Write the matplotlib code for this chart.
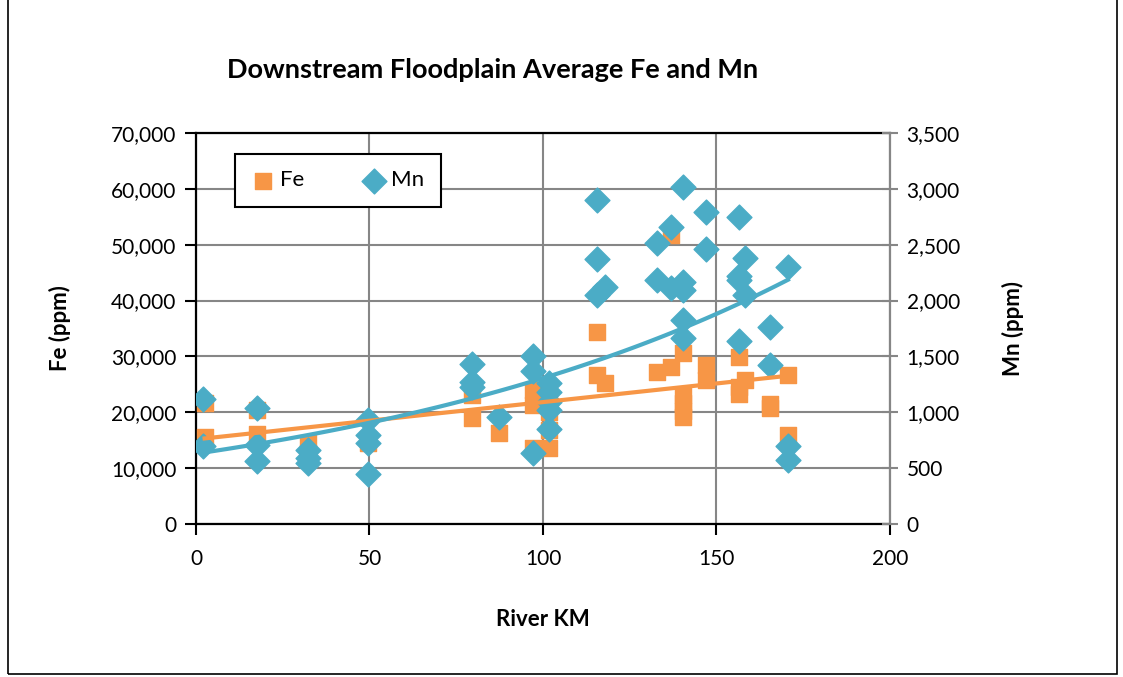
import matplotlib
matplotlib.use("Agg")
from matplotlib import pyplot as plt
from matplotlib.patches import Rectangle
from matplotlib.ticker import FuncFormatter
import numpy as np

plt.rcParams['font.family'] = ['Lato', 'DejaVu Sans']

# Fe samples (river km, ppm)
fe_km = [2.5, 2.5, 17.6, 17.6, 32.3, 32.3, 49.6, 49.6, 79.5, 79.5, 87.3,
         97.1, 97.1, 97.1, 101.7, 101.7, 101.7, 101.7, 115.6, 115.6, 117.9,
         132.9, 136.9, 136.9, 140.3, 140.3, 140.3, 140.3, 140.3, 147, 147,
         156.5, 156.5, 156.5, 158.2, 165.4, 165.4, 170.6, 170.6]
fe = [21700, 15600, 20400, 16100, 14500, 12800, 14500, 15200, 23100, 19000, 16300,
      24000, 21300, 13600, 16800, 13600, 20000, 22000, 34400, 26700, 25200,
      27200, 28100, 51700, 30600, 23100, 21700, 20200, 19200, 28500, 25800,
      29900, 24500, 23300, 25800, 21500, 20700, 26700, 15900]

# Mn samples (river km, ppm)
mn_km = [2, 2, 17.6, 17.6, 17.6, 32.3, 32.3, 32.3, 49.6, 49.6, 49.6, 49.6,
         79.5, 79.5, 79.5, 87.3, 97.1, 97.1, 97.1,
         101.7, 101.7, 101.7, 101.7, 101.7, 115.6, 115.6, 115.6, 117.9,
         132.9, 132.9, 136.9, 136.9, 140.3, 140.3, 140.3, 140.3, 140.3,
         147, 147, 156.5, 156.5, 156.5, 156.5, 158.2, 158.2,
         165.4, 165.4, 170.6, 170.6, 170.6]
mn = [1120, 700, 1035, 705, 560, 660, 590, 550, 935, 800, 725, 450,
      1430, 1270, 1225, 955, 1500, 1370, 635,
      1260, 1180, 1090, 1020, 850, 2900, 2370, 2050, 2120,
      2515, 2185, 2660, 2110, 3015, 2165, 2095, 1825, 1665,
      2790, 2465, 2750, 2220, 2185, 1640, 2380, 2050,
      1760, 1420, 2300, 700, 575]

orange = "#F79646"
blue = "#4BACC6"
grid_gray = "#868686"

fig = plt.figure(figsize=(11.23, 6.77), dpi=100)
fig.patches.append(Rectangle((0.007, 0.004), 0.988, 1.0, transform=fig.transFigure,
                             fill=False, edgecolor="black", linewidth=1.2))
ax1 = fig.add_axes([0.1745, 0.226, 0.618, 0.5775])
ax2 = ax1.twinx()

ax1.scatter(fe_km, fe, marker="s", s=120, color=orange, label="Fe", zorder=3)
ax2.scatter(mn_km, mn, marker="D", s=160, color=blue, label="Mn", zorder=3)

# trendlines: linear for Fe, exponential for Mn
fe_fit = np.polyfit(fe_km, fe, 1)
xf = np.linspace(min(fe_km), max(fe_km), 100)
ax2.plot(xf, np.polyval(fe_fit, xf), color=orange, linewidth=3,
         transform=ax1.transData, zorder=4)
mn_fit = np.polyfit(mn_km, np.log(mn), 1)
xm = np.linspace(min(mn_km), max(mn_km), 100)
ax2.plot(xm, np.exp(np.polyval(mn_fit, xm)), color=blue, linewidth=3, zorder=5)

ax1.set_xlim(0, 200)
ax1.set_ylim(0, 70000)
ax2.set_ylim(0, 3500)
ax1.set_xticks(range(0, 201, 50))
ax1.set_yticks(range(0, 70001, 10000))
ax2.set_yticks(range(0, 3501, 500))
fmt = FuncFormatter(lambda v, p: f"{int(v):,}")
ax1.yaxis.set_major_formatter(fmt)
ax2.yaxis.set_major_formatter(fmt)

ax1.grid(True, color=grid_gray, linewidth=1.5)
ax1.set_axisbelow(True)
ax1.tick_params(labelsize=15, length=8, width=1.5, pad=6)
ax1.tick_params(axis="x", pad=10)
ax2.tick_params(labelsize=15, length=12, width=1.5, direction="inout",
                color=grid_gray, pad=6)
for s in ("left", "bottom", "top"):
    ax1.spines[s].set_linewidth(1.6)
ax1.spines["right"].set_visible(False)
ax2.spines["right"].set_color(grid_gray)
ax2.spines["right"].set_linewidth(1.6)
for s in ("left", "bottom", "top"):
    ax2.spines[s].set_visible(False)

ax1.set_xlabel("River KM", fontsize=16, fontweight="bold", va="center")
ax1.xaxis.set_label_coords(0.5, -0.243)
ax1.set_ylabel("Fe (ppm)", fontsize=16, fontweight="bold", va="center")
ax1.yaxis.set_label_coords(-0.196, 0.5)
ax2.set_ylabel("Mn (ppm)", fontsize=16, fontweight="bold", va="center")
ax2.yaxis.set_label_coords(1.177, 0.5)
fig.text(0.439, 0.897, "Downstream Floodplain Average Fe and Mn", ha="center",
         va="center", fontsize=19.5, fontweight="bold")

h1, l1 = ax1.get_legend_handles_labels()
h2, l2 = ax2.get_legend_handles_labels()
leg = ax2.legend(h1 + h2, l1 + l2, loc="upper left", bbox_to_anchor=(0.056, 0.947),
                 ncol=2, fontsize=16, fancybox=False, edgecolor="black",
                 borderpad=0.75, borderaxespad=0, handlelength=1.0,
                 handletextpad=0.3, columnspacing=2.6, markerscale=1.0,
                 framealpha=1)
leg.get_frame().set_linewidth(1.5)
# widen the frame a little to the right like the original
leg._legend_box.align = "center"

fig.savefig("out.png", dpi=100)
